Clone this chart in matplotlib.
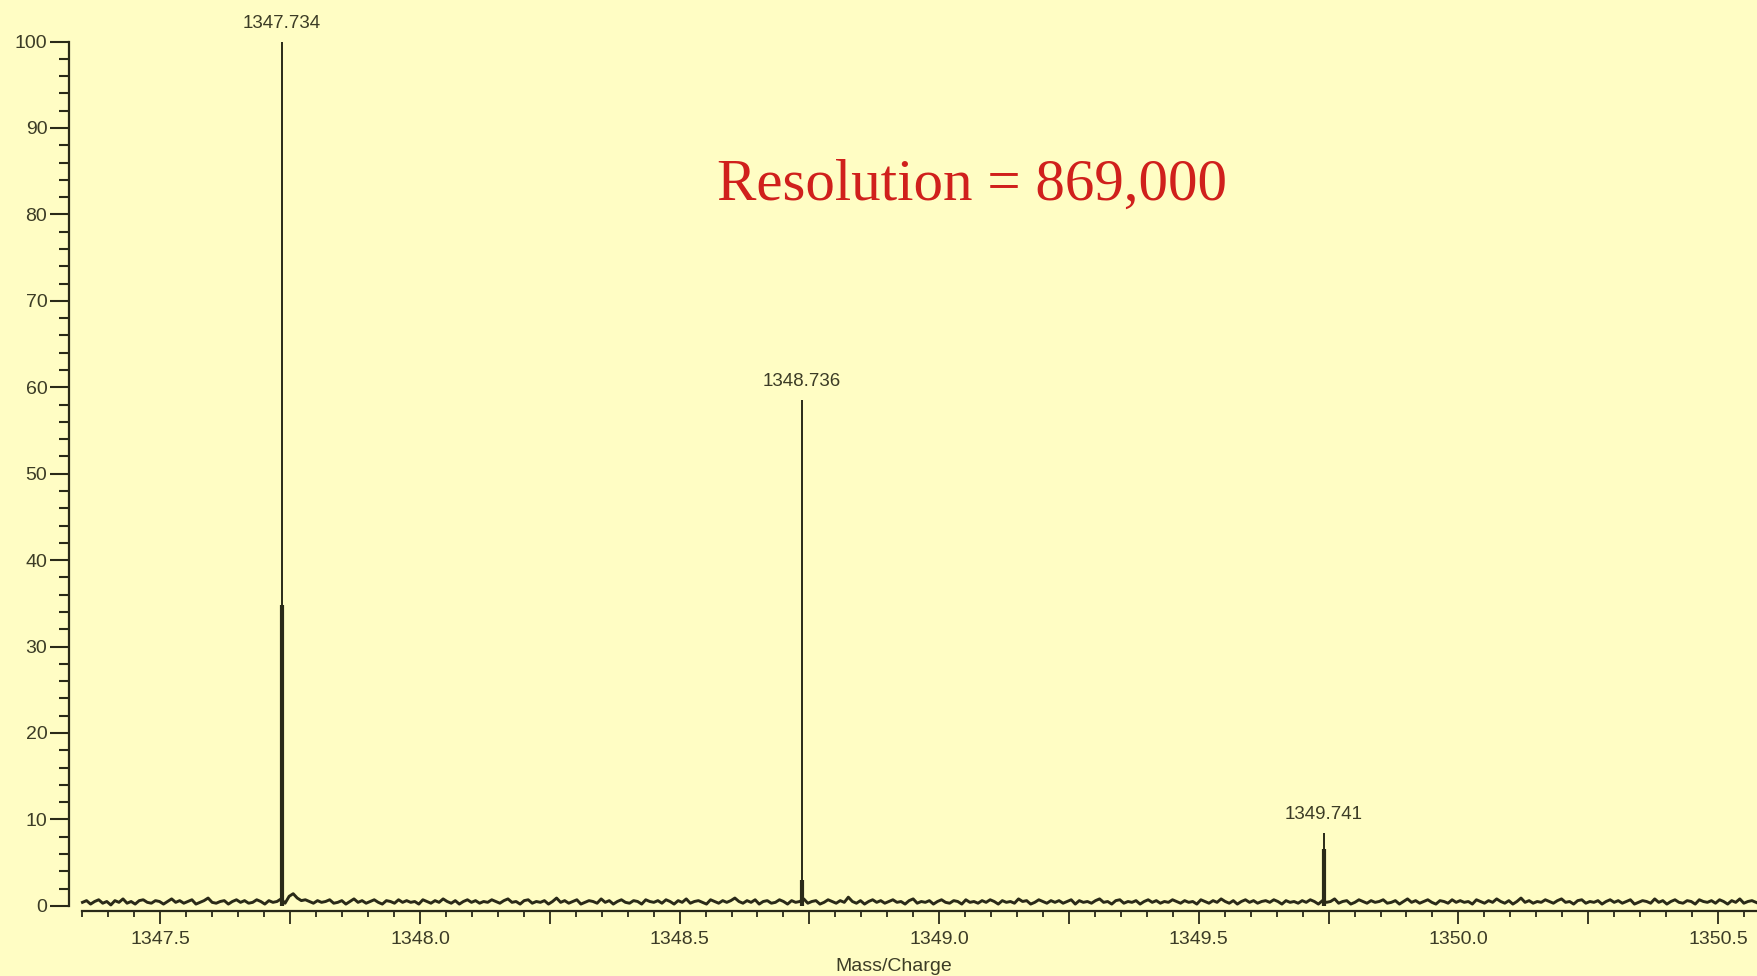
import numpy as np
import matplotlib
matplotlib.use("Agg")
import matplotlib.pyplot as plt
from matplotlib.ticker import MultipleLocator, FuncFormatter

# Centroid peaks: m/z, relative intensity, and height of the dense profile core
peak_mz = [1347.734, 1348.736, 1349.741]
peak_int = [100.0, 58.5, 8.4]
peak_core = [34.8, 3.0, 6.6]
peak_labels = ["1347.734", "1348.736", "1349.741"]

# Baseline noise trace, in tenths of a percent of relative intensity
noise_tenths = [
    4, 6, 2, 5, 7, 3, 5, 1, 6, 4, 8, 3, 5, 2, 6, 7, 4, 3, 6, 5,
    2, 5, 8, 4, 6, 3, 5, 7, 2, 4, 6, 9, 4, 3, 5, 6, 2, 5, 7, 4,
    6, 3, 4, 7, 5, 2, 6, 4, 5, 8, 3, 11, 14, 9, 6, 7, 5, 3, 6, 4,
    5, 7, 3, 4, 6, 2, 5, 8, 4, 6, 3, 5, 7, 4, 2, 6, 5, 3, 7, 4,
    6, 4, 5, 2, 7, 5, 3, 6, 4, 8, 5, 3, 6, 2, 5, 7, 4, 6, 3, 5,
    4, 7, 5, 3, 6, 8, 4, 5, 2, 6, 7, 3, 5, 4, 6, 2, 5, 9, 4, 6,
    3, 5, 7, 2, 4, 6, 5, 3, 8, 4, 6, 2, 5, 7, 4, 3, 6, 5, 2, 7,
    5, 4, 6, 3, 7, 5, 2, 6, 4, 8, 3, 5, 6, 4, 2, 7, 5, 3, 6, 4,
    6, 9, 5, 3, 6, 4, 7, 2, 5, 6, 3, 4, 7, 5, 2, 6, 4, 5, 8, 3,
    5, 6, 2, 4, 7, 5, 3, 6, 4, 10, 5, 3, 6, 2, 5, 7, 4, 6, 3, 5,
    7, 4, 5, 2, 6, 8, 3, 5, 4, 6, 2, 5, 7, 4, 3, 6, 5, 2, 7, 4,
    5, 3, 6, 4, 7, 5, 2, 6, 4, 5, 3, 8, 5, 6, 2, 4, 7, 5, 3, 6,
    4, 6, 3, 5, 7, 2, 6, 4, 5, 3, 6, 8, 4, 5, 2, 6, 7, 3, 5, 4,
    6, 2, 5, 7, 4, 6, 3, 5, 4, 7, 5, 3, 6, 4, 5, 2, 7, 5, 3, 6,
    4, 8, 5, 3, 6, 2, 5, 7, 4, 6, 3, 5, 6, 4, 7, 5, 2, 6, 4, 5,
    3, 6, 4, 7, 5, 2, 6, 4, 5, 8, 3, 5, 6, 2, 4, 7, 5, 3, 6, 4,
    5, 7, 3, 4, 6, 2, 5, 8, 4, 6, 3, 5, 7, 4, 2, 6, 5, 3, 7, 4,
    6, 4, 5, 2, 7, 5, 3, 6, 4, 8, 5, 3, 6, 2, 5, 9, 4, 6, 3, 5,
    4, 7, 5, 3, 6, 8, 4, 5, 2, 6, 7, 3, 5, 4, 6, 2, 5, 7, 4, 6,
    3, 5, 7, 2, 4, 6, 5, 3, 8, 4, 6, 2, 5, 7, 4, 3, 6, 5, 2, 7,
    5, 4, 6, 3, 7, 5, 2, 6, 4, 8, 3, 5, 6, 4, 2, 7, 5, 3, 6, 4,
]
noise_mz_range = (1347.35, 1350.62)

x_major = 0.25
x_minor = 0.05
x_labelled = 0.5

bg = "#fffdc4"
ink = "#2a2a18"
text_ink = "#3c3c26"

plt.rcParams["font.family"] = ["Liberation Sans", "DejaVu Sans"]

fig = plt.figure(figsize=(17.58, 9.76), dpi=100, facecolor=bg)
ax = fig.add_axes([69.5 / 1758, 1 - 911 / 976, 1 - 69.5 / 1758, (911 - 41.5) / 976])
ax.set_facecolor(bg)

ax.set_xlim(1347.325, 1350.577)
ax.set_ylim(-0.6, 100)

# baseline noise
noise = np.asarray(noise_tenths) / 10.0
noise_mz = np.linspace(noise_mz_range[0], noise_mz_range[1], len(noise))
ax.plot(noise_mz, noise, color=ink, lw=2.1, zorder=2)

# peaks: thin full stick plus denser lower core
ax.vlines(peak_mz, 0, peak_int, color=ink, lw=1.4, zorder=3, clip_on=False)
ax.vlines(peak_mz, 0, peak_core, color=ink, lw=3.0, zorder=3)
for mz, h, lab in zip(peak_mz, peak_int, peak_labels):
    ax.annotate(lab, (mz, h), xytext=(0, 7), textcoords="offset points",
                ha="center", va="bottom", fontsize=13.5, color=text_ink,
                annotation_clip=False)

# spines
for s in ("top", "right"):
    ax.spines[s].set_visible(False)
ax.spines["left"].set_bounds(0, 100)
ax.spines["bottom"].set_bounds(1347.35, 1350.577)
for s in ("left", "bottom"):
    ax.spines[s].set_color(ink)
    ax.spines[s].set_linewidth(1.6)

# y ticks
ax.yaxis.set_major_locator(MultipleLocator(10))
ax.yaxis.set_minor_locator(MultipleLocator(2))
ax.tick_params(axis="y", which="major", length=14, width=1.5, colors=ink,
               labelcolor=text_ink, labelsize=14, pad=2)
ax.tick_params(axis="y", which="minor", length=7.5, width=1.5, colors=ink)

# x ticks
ax.xaxis.set_major_locator(MultipleLocator(x_major))
ax.xaxis.set_minor_locator(MultipleLocator(x_minor))
ax.xaxis.set_major_formatter(FuncFormatter(
    lambda v, p: f"{v:.1f}" if abs(v / x_labelled - round(v / x_labelled)) < 1e-6 else ""))
ax.tick_params(axis="x", which="major", length=9.5, width=1.3, colors=ink,
               labelcolor=text_ink, labelsize=14, pad=5)
ax.tick_params(axis="x", which="minor", length=4, width=1.3, colors=ink)

ax.set_xlabel("Mass/Charge", fontsize=14, color=text_ink)
ax.xaxis.set_label_coords((894 - 69.5) / (1758 - 69.5), -0.054)

fig.text(972 / 1758, 1 - 186 / 976, "Resolution = 869,000", ha="center", va="center",
         fontsize=42.5, color="#d0201c", family=["Liberation Serif", "DejaVu Serif"])

fig.savefig("out.png", dpi=100, facecolor=bg)
